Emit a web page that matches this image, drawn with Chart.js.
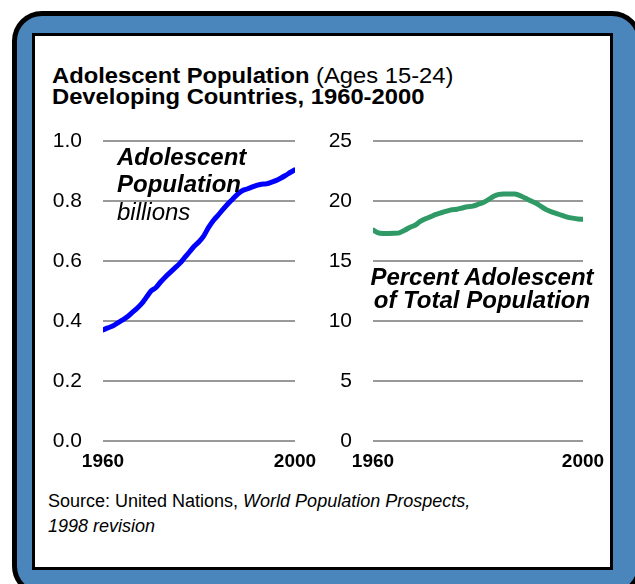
<!DOCTYPE html>
<html>
<head>
<meta charset="utf-8">
<script src="https://cdn.jsdelivr.net/npm/chart.js@4/dist/chart.umd.min.js"></script>
<style>
  html, body { margin: 0; padding: 0; width: 635px; height: 584px; overflow: hidden; background: #fff; }
  body { position: relative; font-family: "Liberation Sans", Arial, sans-serif; color: #000; }
  .frame {
    position: absolute; left: 12px; top: 11px; width: 630px; height: 585px;
    box-sizing: border-box; border: 5px solid #000; border-radius: 30px; background: #4a86bb;
  }
  .panel {
    position: absolute; left: 32px; top: 33px; width: 581px; height: 537px;
    box-sizing: border-box; border: 3px solid #000; background: #fff;
  }
  .title {
    position: absolute; left: 52px; top: 65px; font-size: 22px; line-height: 21px; white-space: nowrap;
    transform: scaleX(1.08); transform-origin: 0 0;
  }
  .title b { font-weight: bold; }
  canvas { position: absolute; }
  #popChart { left: 40px; top: 120px; }
  #pctChart { left: 310px; top: 120px; }
  .note { position: absolute; font-style: italic; white-space: nowrap; }
  .note-pop { left: 117px; top: 143px; font-size: 24px; line-height: 27px; }
  .note-pop .strong { font-weight: bold; }
  .note-pop .unit { margin-top: 1px; }
  .note-pct { left: 362px; width: 240px; top: 265px; font-size: 24px; line-height: 23px; font-weight: bold; text-align: center; }
  .source { position: absolute; left: 48px; top: 489px; font-size: 18px; line-height: 25px; white-space: nowrap; }
</style>
</head>
<body>
<div class="frame"></div>
<div class="panel"></div>
<div class="title"><b>Adolescent Population</b> (Ages 15-24)<br><b>Developing Countries, 1960-2000</b></div>
<canvas id="popChart" width="280" height="365"></canvas>
<canvas id="pctChart" width="300" height="365"></canvas>
<div class="note note-pop"><div class="strong">Adolescent</div><div class="strong">Population</div><div class="unit">billions</div></div>
<div class="note note-pct">Percent Adolescent<br>of Total Population</div>
<div class="source">Source: United Nations, <i>World Population Prospects,</i><br><i>1998 revision</i></div>
<script>
// Years on the horizontal axis
const years = [1960, 1961, 1962, 1963, 1964, 1965, 1966, 1967, 1968, 1969,
               1970, 1971, 1972, 1973, 1974, 1975, 1976, 1977, 1978, 1979,
               1980, 1981, 1982, 1983, 1984, 1985, 1986, 1987, 1988, 1989,
               1990, 1991, 1992, 1993, 1994, 1995, 1996, 1997, 1998, 1999, 2000];

// Adolescents aged 15-24 in developing countries, billions
const adolescentBillions = [0.370, 0.377, 0.383, 0.393, 0.403, 0.413, 0.427, 0.441, 0.457, 0.478,
                            0.500, 0.511, 0.530, 0.547, 0.562, 0.577, 0.592, 0.611, 0.630, 0.649,
                            0.664, 0.684, 0.712, 0.735, 0.753, 0.772, 0.790, 0.806, 0.822, 0.834,
                            0.840, 0.846, 0.852, 0.856, 0.857, 0.862, 0.868, 0.876, 0.885, 0.895, 0.904];

// Adolescents as a percent of total population
const adolescentPercent = [17.58, 17.35, 17.30, 17.30, 17.31, 17.35, 17.55, 17.80, 17.98, 18.30,
                           18.52, 18.70, 18.88, 19.02, 19.15, 19.27, 19.31, 19.42, 19.52, 19.57,
                           19.72, 19.88, 20.12, 20.40, 20.55, 20.58, 20.58, 20.58, 20.45, 20.24,
                           20.03, 19.83, 19.55, 19.28, 19.10, 18.95, 18.80, 18.66, 18.57, 18.50, 18.48];

// Axis tick labels
const yearTicks = [1960, 2000];
const billionTicks = [0, 0.2, 0.4, 0.6, 0.8, 1.0];
const percentTicks = [0, 5, 10, 15, 20, 25];

const FONT = '"Liberation Sans", Arial, sans-serif';

function makeChart(canvasId, values, color, yTicks, formatY, padRight) {
  return new Chart(document.getElementById(canvasId), {
    type: 'line',
    data: {
      datasets: [{
        data: years.map((yr, i) => ({ x: yr, y: values[i] })),
        borderColor: color,
        borderWidth: 5,
        pointRadius: 0,
        tension: 0.25,
        borderCapStyle: 'round',
        borderJoinStyle: 'round',
        fill: false
      }]
    },
    options: {
      responsive: false,
      animation: false,
      devicePixelRatio: 1,
      layout: { padding: { top: 21, right: padRight, bottom: 10, left: 0 } },
      plugins: { legend: { display: false }, tooltip: { enabled: false } },
      scales: {
        x: {
          type: 'linear',
          min: yearTicks[0],
          max: yearTicks[yearTicks.length - 1],
          afterBuildTicks: s => { s.ticks = yearTicks.map(v => ({ value: v })); },
          // fixed axis band; label overhang is absorbed by the layout padding
          afterFit: s => { s.height = 34; s.paddingLeft = 0; s.paddingRight = 0; },
          grid: { display: false, drawTicks: false },
          border: { display: false },
          ticks: {
            color: '#000',
            padding: 9,
            maxRotation: 0,
            autoSkip: false,
            font: { family: FONT, size: 19, weight: 'bold' },
            callback: v => String(v)
          }
        },
        y: {
          min: yTicks[0],
          max: yTicks[yTicks.length - 1],
          afterBuildTicks: s => { s.ticks = yTicks.map(v => ({ value: v })); },
          afterFit: s => { s.width = 63; s.paddingTop = 0; s.paddingBottom = 0; },
          grid: { color: '#999999', lineWidth: 2, drawTicks: false },
          border: { display: false },
          ticks: {
            color: '#000',
            padding: 21,
            autoSkip: false,
            font: { family: FONT, size: 21 },
            callback: formatY
          }
        }
      }
    }
  });
}

makeChart('popChart', adolescentBillions, '#0000ff', billionTicks, v => v.toFixed(1), 25);
makeChart('pctChart', adolescentPercent, '#2f9a66', percentTicks, v => String(v), 27);
</script>
</body>
</html>
